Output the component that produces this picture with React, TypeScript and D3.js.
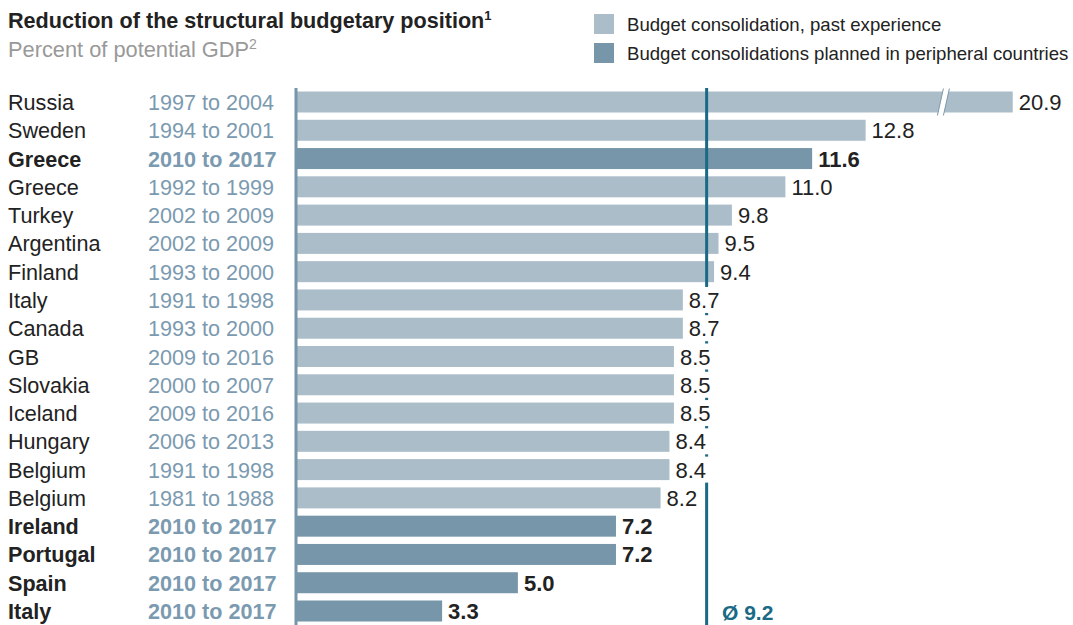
import React from "react";
import * as d3 from "d3";

const countries = ["Russia","Sweden","Greece","Greece","Turkey","Argentina","Finland","Italy","Canada","GB","Slovakia","Iceland","Hungary","Belgium","Belgium","Ireland","Portugal","Spain","Italy"];
const periods = ["1997 to 2004","1994 to 2001","2010 to 2017","1992 to 1999","2002 to 2009","2002 to 2009","1993 to 2000","1991 to 1998","1993 to 2000","2009 to 2016","2000 to 2007","2009 to 2016","2006 to 2013","1991 to 1998","1981 to 1988","2010 to 2017","2010 to 2017","2010 to 2017","2010 to 2017"];
const values = [20.9,12.8,11.6,11.0,9.8,9.5,9.4,8.7,8.7,8.5,8.5,8.5,8.4,8.4,8.2,7.2,7.2,5.0,3.3];
const planned = [false,false,true,false,false,false,false,false,false,false,false,false,false,false,false,true,true,true,true];
const average = 9.2;
const breakCap = 16.1;
const breakAt = 14.5;
const legendLabels = ["Budget consolidation, past experience","Budget consolidations planned in peripheral countries"];

const W = 1073, H = 625;
const FONT = "'Liberation Sans', Arial, sans-serif";
const LIGHT = "#abbdc9";
const DARK = "#7796aa";
const AVG = "#1a6a85";
const DATE_C = "#7b9ab0";
const TXT = "#222";
const FS = 21.6;
const VFS = 22;

function textW(s: string, fs: number) {
  let w = 0;
  for (const c of s) w += c === "." ? 0.278 : 0.556;
  return w * fs;
}

export default function App() {
  const x = d3.scaleLinear().domain([0, 10]).range([295, 295 + 445.8]);
  const idx = d3.range(countries.length);
  const y = d3.scalePoint<number>().domain(idx).range([102, 611]);
  const barH = 21;
  const avgX = x(average) + 1.5;

  return (
    <div style={{ position: "absolute", left: 0, top: 0 }}>
      <svg width={W} height={H} style={{ display: "block", fontFamily: FONT }}>
        <rect width={W} height={H} fill="#fff" />
        {/* title */}
        <text x={8} y={28} fontSize={21.6} fontWeight="bold" fill={TXT}>
          Reduction of the structural budgetary position
          <tspan fontSize={13} dy={-8}>1</tspan>
        </text>
        <text x={8} y={57} fontSize={21.8} fill="#999">
          Percent of potential GDP
          <tspan fontSize={14} dy={-8}>2</tspan>
        </text>
        {/* legend */}
        {legendLabels.map((l, i) => (
          <g key={l} transform={`translate(594,${14 + i * 29})`}>
            <rect width={20} height={20} fill={i === 0 ? LIGHT : DARK} />
            <text x={33} y={17} fontSize={18.6} fill={TXT}>{l}</text>
          </g>
        ))}
        {/* bars */}
        {idx.map((i) => {
          const v = Math.min(values[i], breakCap);
          return (
            <rect key={"b" + i} x={x(0)} y={(y(i) as number) - barH / 2} width={x(v) - x(0)} height={barH}
              fill={planned[i] ? DARK : LIGHT} />
          );
        })}
        {/* break marks on Russia */}
        {(() => {
          const yc = y(0) as number;
          const bx = x(breakAt);
          return (
            <g>
              <polygon points={`${bx - 4},${yc + barH / 2 + 3} ${bx + 2},${yc - barH / 2 - 3} ${bx + 8},${yc - barH / 2 - 3} ${bx + 2},${yc + barH / 2 + 3}`} fill="#fff" />
              <line x1={bx - 4} y1={yc + barH / 2 + 3} x2={bx + 2} y2={yc - barH / 2 - 3} stroke="#7f98a8" strokeWidth={1} />
              <line x1={bx + 2} y1={yc + barH / 2 + 3} x2={bx + 8} y2={yc - barH / 2 - 3} stroke="#7f98a8" strokeWidth={1} />
            </g>
          );
        })()}
        {/* axis */}
        <line x1={296} x2={296} y1={88} y2={625} stroke={DARK} strokeWidth={3} />
        {/* average line */}
        <line x1={avgX} x2={avgX} y1={88} y2={625} stroke={AVG} strokeWidth={3} />
        {/* value labels */}
        {idx.map((i) => {
          const v = Math.min(values[i], breakCap);
          const lx = x(v) + 6;
          const s = values[i].toFixed(1);
          const tw = textW(s, VFS);
          const yc = y(i) as number;
          return (
            <g key={"v" + i}>
              <rect x={lx - 3} y={yc - 13} width={tw + 8} height={26} fill="#fff" />
              <text x={lx} y={yc + 8} fontSize={VFS} fontWeight={planned[i] ? "bold" : "normal"} fill={TXT}>{s}</text>
            </g>
          );
        })}
        {/* row labels */}
        {idx.map((i) => (
          <g key={"l" + i} fontWeight={planned[i] ? "bold" : "normal"} fontSize={FS}>
            <text x={8} y={(y(i) as number) + 8} fill={TXT}>{countries[i]}</text>
            <text x={148} y={(y(i) as number) + 8} fill={DATE_C}>{periods[i]}</text>
          </g>
        ))}
        {/* average label */}
        <text x={722} y={620} fontSize={21} fontWeight="bold" fill={AVG}>Ø {average.toFixed(1)}</text>
      </svg>
    </div>
  );
}
